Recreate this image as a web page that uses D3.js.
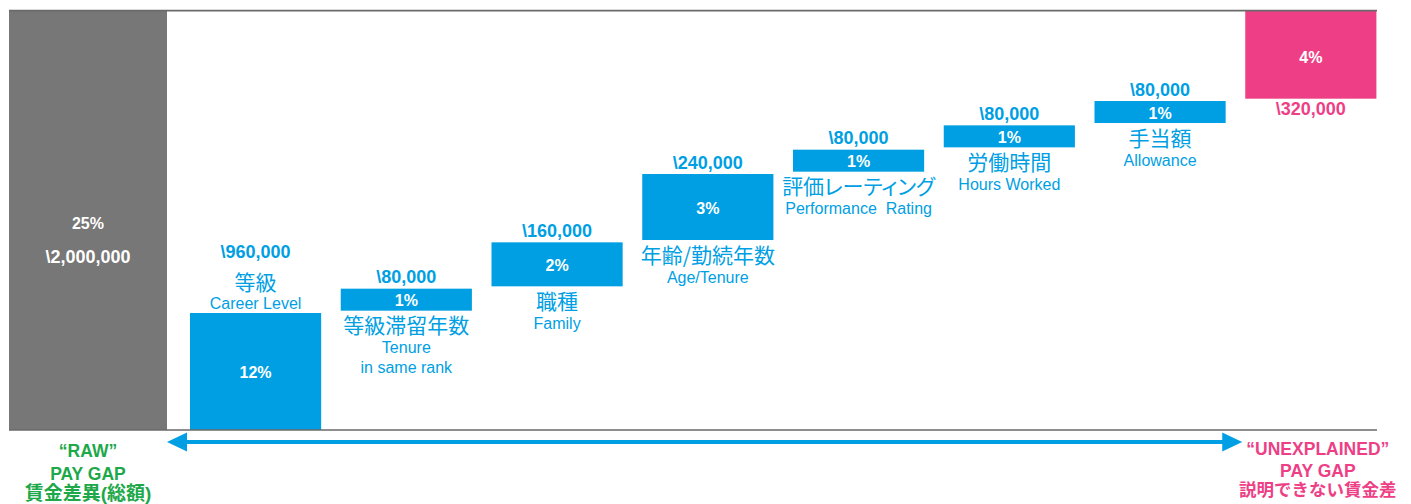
<!DOCTYPE html>
<html><head><meta charset="utf-8">
<script src="https://cdn.jsdelivr.net/npm/d3@7"></script>
<style>
html,body{margin:0;padding:0;background:#fff;}
svg{display:block;}
.lat{font-family:"Liberation Sans",Arial,sans-serif;}
.jp{font-family:"Noto Sans CJK JP",sans-serif;font-feature-settings:"palt";}
.mix{font-family:"Liberation Sans","Noto Sans CJK JP",sans-serif;}
</style></head><body>
<svg id="chart" width="1411" height="504"></svg>
<script>
// ---- data ----
const categoriesJa = ["等級","等級滞留年数","職種","年齢/勤続年数","評価レーティング","労働時間","手当額","UNEXPLAINED"];
const categoriesEn = [["Career Level"],["Tenure","in same rank"],["Family"],["Age/Tenure"],["Performance  Rating"],["Hours Worked"],["Allowance"],[]];
const percents = [12,1,2,3,1,1,1,4];
const amounts = [960000,80000,160000,240000,80000,80000,80000,320000];
const rawPercent = 25;
const rawAmount = 2000000;
const rawLabel = ["\u201cRAW\u201d","PAY GAP","賃金差異(総額)"];
const unexplainedLabel = ["\u201cUNEXPLAINED\u201d","PAY GAP","説明できない賃金差"];

// ---- layout ----
const plotLeft = 9, plotRight = 1377, plotTop = 10.7, plotBottom = 430;
const breakValue = 12, breakHeight = 117, stackGap = 2.33;
const BLUE = "#009FE3", PINK = "#EE3F86", GRAY = "#777777", GREEN = "#1DA84A", LINE = "#6A6A6A";
const n = percents.length;
const ids = d3.range(n);

const x = d3.scaleBand().domain(ids).range([180.2, 1386.2]).paddingInner(0.13).paddingOuter(0.065);
const y = d3.scaleLinear().domain([0, breakValue, rawPercent])
  .range([plotBottom, plotBottom - breakHeight, plotTop + (n - 1) * stackGap]);
const fmtYen = v => "\\" + d3.format(",")(v);

const cum = Array.from(d3.cumsum(percents));
const bars = ids.map(i => {
  const s = cum[i] - percents[i], e = cum[i];
  return {i, y0: y(s) - i * stackGap, y1: y(e) - i * stackGap};
});

const svg = d3.select("#chart");

// raw gray bar
const grayRight = x(0) - 23;
const grayTop = y(rawPercent) - (n - 1) * stackGap;
const grayMid = (y(0) + grayTop) / 2;
svg.append("rect").attr("x", plotLeft).attr("width", grayRight - plotLeft)
  .attr("y", grayTop).attr("height", y(0) - grayTop)
  .attr("fill", GRAY);
svg.append("text").attr("class","lat").attr("x", (plotLeft + grayRight) / 2).attr("y", grayMid + 3).attr("dy","0.35em")
  .attr("text-anchor","middle").attr("font-weight","bold").attr("font-size",16).attr("fill","#fff").text(rawPercent + "%");
svg.append("text").attr("class","lat").attr("x", (plotLeft + grayRight) / 2).attr("y", grayMid + 36).attr("dy","0.35em")
  .attr("text-anchor","middle").attr("font-weight","bold").attr("font-size",18).attr("fill","#fff").text(fmtYen(rawAmount));

// waterfall bars
svg.selectAll("rect.bar").data(bars).join("rect").attr("class","bar")
  .attr("x", d => x(d.i)).attr("width", x.bandwidth())
  .attr("y", d => d.y1).attr("height", d => d.y0 - d.y1)
  .attr("fill", d => d.i === n - 1 ? PINK : BLUE);

// percent labels inside bars
svg.selectAll("text.pct").data(bars).join("text").attr("class","pct lat")
  .attr("x", d => x(d.i) + x.bandwidth() / 2)
  .attr("y", d => d.i === n - 1 ? (d.y0 + d.y1) / 2 + 2.5 : (d.y0 + d.y1) / 2 + 1)
  .attr("dy","0.35em").attr("text-anchor","middle").attr("font-weight","bold").attr("font-size",16)
  .attr("fill","#fff").text(d => percents[d.i] + "%");

// amount labels
svg.selectAll("text.amt").data(bars).join("text").attr("class","amt lat")
  .attr("x", d => x(d.i) + x.bandwidth() / 2)
  .attr("y", d => d.i === 0 ? d.y1 - 61 : (d.i === n - 1 ? d.y0 + 10.5 : d.y1 - 11.5))
  .attr("dy","0.35em").attr("text-anchor","middle").attr("font-weight","bold").attr("font-size",18)
  .attr("fill", d => d.i === n - 1 ? PINK : BLUE).text(d => fmtYen(amounts[d.i]));

// category labels
bars.filter(d => d.i < n - 1).forEach(d => {
  const cx = x(d.i) + x.bandwidth() / 2;
  const above = d.i === 0;
  const jpY = above ? d.y1 - 31 : d.y0 + 15;
  svg.append("text").attr("class","jp").attr("x", cx).attr("y", jpY).attr("dy","0.37em")
    .attr("text-anchor","middle").attr("font-size",21).attr("fill", BLUE).text(categoriesJa[d.i]);
  categoriesEn[d.i].forEach((t, k) => {
    const ey = above ? d.y1 - 10 : d.y0 + 37 + k * 20;
    svg.append("text").attr("class","lat").attr("x", cx).attr("y", ey).attr("dy","0.35em")
      .attr("text-anchor","middle").attr("font-size",16).attr("fill", BLUE)
      .style("white-space","pre").text(t);
  });
});

// frame lines
svg.append("line").attr("x1", plotLeft).attr("x2", plotRight).attr("y1", plotTop).attr("y2", plotTop)
  .attr("stroke", LINE).attr("stroke-width", 1.7);
svg.append("line").attr("x1", plotLeft).attr("x2", plotRight).attr("y1", plotBottom).attr("y2", plotBottom)
  .attr("stroke", LINE).attr("stroke-width", 1.7);

// double arrow
const ax0 = grayRight, ax1 = x(n - 1) - 3, ay = 442, headL = 20, headH = 9.5, shaft = 2;
svg.append("path").attr("fill", BLUE).attr("d",
  `M${ax0},${ay} L${ax0 + headL},${ay - headH} L${ax0 + headL},${ay - shaft} L${ax1 - headL},${ay - shaft} L${ax1 - headL},${ay - headH} L${ax1},${ay} L${ax1 - headL},${ay + headH} L${ax1 - headL},${ay + shaft} L${ax0 + headL},${ay + shaft} L${ax0 + headL},${ay + headH} Z`);

// bottom captions
const leftCx = (plotLeft + grayRight) / 2;
const rightCx = x(n - 1) + x.bandwidth() / 2 + 7;
const capBaseL = [456.7, 480, 499.5], capBaseR = [455, 476.7, 496];
rawLabel.forEach((t, k) => {
  svg.append("text").attr("class", k === 2 ? "mix" : "lat").attr("x", leftCx).attr("y", capBaseL[k])
    .attr("text-anchor","middle").attr("font-weight","bold").attr("font-size", k === 2 ? 19 : 17.5)
    .attr("fill", GREEN).text(t);
});
unexplainedLabel.forEach((t, k) => {
  svg.append("text").attr("class", k === 2 ? "mix" : "lat").attr("x", rightCx).attr("y", capBaseR[k])
    .attr("text-anchor","middle").attr("font-weight","bold").attr("font-size", k === 2 ? 17.5 : 17.5)
    .attr("fill", PINK).text(t);
});
</script>
</body></html>
